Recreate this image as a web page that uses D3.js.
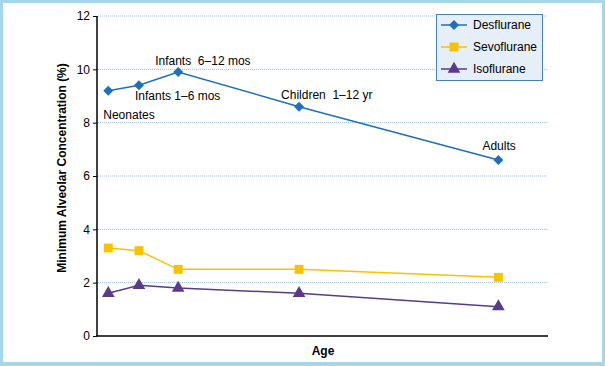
<!DOCTYPE html>
<html><head><meta charset="utf-8">
<script src="https://cdn.jsdelivr.net/npm/d3@7/dist/d3.min.js"></script>
<style>body{margin:0;background:#fff}svg{display:block;font-family:"Liberation Sans",Arial,sans-serif}</style>
</head><body><svg id="c" width="605" height="366"></svg>
<script>
const ages = ["Neonates","Infants 1–6 mos","Infants 6–12 mos","Children 1–12 yr","Adults"];
const agePos = [0.25, 0.93, 1.8, 4.48, 8.9];
const ageLabels = ["Neonates","Infants 1–6 mos","Infants  6–12 mos","Children  1–12 yr","Adults"];
const desflurane = [9.2, 9.4, 9.9, 8.6, 6.6];
const sevoflurane = [3.3, 3.2, 2.5, 2.5, 2.2];
const isoflurane = [1.6, 1.9, 1.8, 1.6, 1.1];
const yTicks = [0,2,4,6,8,10,12];

const svg = d3.select("#c");
const W=605,H=366;
svg.append("rect").attr("x",1.5).attr("y",1.5).attr("width",W-3).attr("height",H-4).attr("fill","#fff").attr("stroke","#a6d7e8").attr("stroke-width",3);
svg.append("rect").attr("x",0).attr("y",H-4).attr("width",W).attr("height",4).attr("fill","#a6d7e8");

const x = d3.scaleLinear().domain([0,10]).range([97,548]);
const y = d3.scaleLinear().domain([0,12]).range([336,16]);

svg.append("g").selectAll("line").data(yTicks.filter(d=>d>0)).join("line")
  .attr("x1",98).attr("x2",548).attr("y1",d=>y(d)).attr("y2",d=>y(d))
  .attr("stroke","#9bb8dc").attr("stroke-width",1).attr("stroke-dasharray","1,1");

const ya = svg.append("g").attr("transform","translate(97,0)").call(d3.axisLeft(y).tickValues(yTicks).tickSize(4).tickPadding(3));
ya.select(".domain").attr("stroke","#000").attr("stroke-width",1.5).attr("d","M0,"+y(12)+"V"+y(0));
ya.selectAll("text").attr("font-size",12).attr("fill","#000").attr("font-family","Liberation Sans, Arial, sans-serif");
svg.append("line").attr("x1",96).attr("x2",548).attr("y1",y(0)).attr("y2",y(0)).attr("stroke","#000").attr("stroke-width",1.5);

svg.append("text").attr("transform","translate(66,168) rotate(-90)").attr("text-anchor","middle")
  .attr("font-size",12).attr("font-weight","bold").text("Minimum Alveolar Concentration (%)");
svg.append("text").attr("x",323).attr("y",355).attr("text-anchor","middle").attr("font-size",12).attr("font-weight","bold").text("Age");

const series = [
  {name:"Desflurane", vals:desflurane, color:"#1f6fbf", sym:d3.symbolSquare, size:50, rot:45},
  {name:"Sevoflurane", vals:sevoflurane, color:"#f7c300", sym:d3.symbolSquare, size:80, rot:0},
  {name:"Isoflurane", vals:isoflurane, color:"#5a3a8c", sym:d3.symbolTriangle, size:70, rot:0}
];
const line = d3.line().x((d,i)=>x(agePos[i])).y(d=>y(d));
series.forEach(s=>{
  svg.append("path").attr("d",line(s.vals)).attr("fill","none").attr("stroke",s.color).attr("stroke-width",1.5);
  svg.append("g").selectAll("path").data(s.vals).join("path")
    .attr("transform",(d,i)=>`translate(${x(agePos[i])},${y(d)}) rotate(${s.rot})`)
    .attr("d",d3.symbol().type(s.sym).size(s.size)).attr("fill",s.color);
});

const lblOff = [[-5,24],[-4,11],[-23,-11],[-18,-12],[-16,-14]];
svg.append("g").selectAll("text").data(ageLabels).join("text")
  .attr("x",(d,i)=>x(agePos[i])+lblOff[i][0]).attr("y",(d,i)=>y(desflurane[i])+lblOff[i][1]+4)
  .attr("font-size",12).attr("fill","#000").style("white-space","pre").text(d=>d);

const lg = svg.append("g");
lg.append("rect").attr("x",436.5).attr("y",14.5).attr("width",106).attr("height",66).attr("fill","#e6eef8").attr("stroke","#4a7fb5").attr("stroke-width",1);
series.forEach((s,i)=>{
  const ly = 25 + i*22;
  lg.append("line").attr("x1",441).attr("x2",467).attr("y1",ly).attr("y2",ly).attr("stroke",s.color).attr("stroke-width",1.5);
  lg.append("path").attr("transform",`translate(454,${ly}) rotate(${s.rot})`).attr("d",d3.symbol().type(s.sym).size(s.size)).attr("fill",s.color);
  lg.append("text").attr("x",473).attr("y",ly+4).attr("font-size",12).text(s.name);
});
</script></body></html>
